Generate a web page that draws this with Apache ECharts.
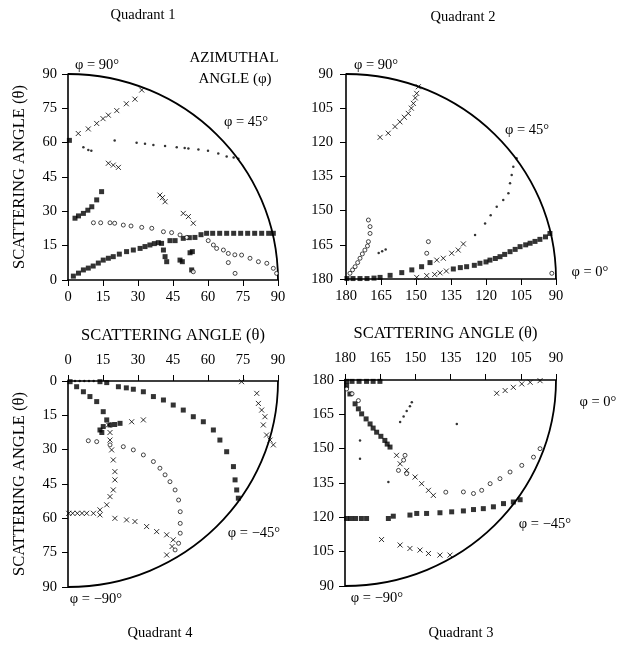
<!DOCTYPE html>
<html><head><meta charset="utf-8">
<script src="https://cdn.jsdelivr.net/npm/echarts@6/dist/echarts.min.js"></script>
<style>html,body{margin:0;padding:0;background:#fff}#c{width:622px;height:645px}</style>
</head><body><div id="c"></div>
<script>
// ---- data (theta, phi-plane coordinates) ----
const tickLow = [0, 15, 30, 45, 60, 75, 90];
const tickHigh = [90, 105, 120, 135, 150, 165, 180];
const axisTitle = 'SCATTERING ANGLE (θ)';
const quadrantNames = ['Quadrant 1', 'Quadrant 2', 'Quadrant 4', 'Quadrant 3'];

const q1Squares = [[2.3,1.7],[4.5,3],[6.6,4.4],[8.7,5.2],[10.8,6.1],[13,7.4],[15.1,8.7],[17.3,9.5],[19.4,10.2],[22,11.3],[25.1,12.4],[28,13.1],[30.9,13.8],[33,14.6],[35.1,15.3],[37,15.9],[38.7,16.3],[40.1,16],[40.9,13.1],[41.6,10.2],[42.3,8],[43.7,17.2],[45.9,17.2],[49.4,18.2],[52,18.5],[54.4,18.6],[57,19.8],[59.4,20.4],[62,20.4],[65,20.4],[68,20.4],[71,20.4],[74,20.4],[77,20.4],[80,20.4],[83,20.4],[86,20.4],[88,20.4],[3,27],[4.5,28],[6.6,29.1],[8.5,30.5],[10.2,32],[12.3,35],[14.4,38.6],[0.6,61],[48,8.7],[49,8],[52.3,11.9],[53.3,12.4],[53,4.4]];
const q1Crosses = [[4.4,64],[8.7,66],[12.3,68.4],[15,70.5],[17.3,72],[20.9,74],[25,77],[28.7,79],[31.6,83],[39.4,37.1],[40.5,36],[41.6,34.2],[49.4,29.1],[51.6,27.7],[53.7,24.8],[17.3,51],[19.4,50.2],[21.6,49.2]];
const q1Circles = [[10.9,25],[14,25],[18,25],[20,24.8],[23.7,24],[27,23.6],[31.6,23],[35.9,22.6],[40.9,21.1],[44.4,20.7],[48,19.7],[50.9,18.6],[60.1,17.2],[62.3,15.3],[63.7,13.8],[66.6,13.1],[68.7,11.6],[71.5,11],[74.4,10.9],[78,9.5],[81.6,8],[85.2,7.3],[88,5.1],[89.4,2.9],[68.7,7.6],[71.6,2.9],[53.7,3.6]];
const q1Dots = [[6.6,58],[8.7,56.8],[10,56.5],[20,61],[29.4,60],[33,59.5],[36.6,59],[41.6,58.5],[46.6,58],[50,57.7],[51.6,57.5],[55.9,57],[60,56.5],[64.4,55.3],[68,54],[71,53.5],[73,53]];

const q2Squares = [[179.6,179.8],[177,179.8],[174,179.8],[171,179.8],[168,179.6],[165.4,179.3],[161.1,178.4],[156.1,177.2],[151.8,176],[147.6,174.6],[144,172.8],[134,175.6],[131,175],[128.3,174.6],[125,174],[122.6,173.1],[120,172.5],[118.3,171.7],[116,171],[114,170.2],[112,169.2],[109.7,168],[107.5,167],[105.4,165.8],[103,165],[101.1,164.3],[99,163.5],[96.9,162.6],[94.5,161.5],[92.6,160]];
const q2Crosses = [[149.7,179.3],[145.4,178.5],[142,178],[139.7,177.3],[137,176.5],[165.4,117.8],[161.9,116],[159,113.1],[156.9,111],[155,109],[153.3,107.3],[152,105],[151.1,102.9],[150.3,100.5],[149.7,98.5],[149,95.6],[141.1,171.7],[138.3,170.9],[134.7,168.7],[131.9,167.3],[129.7,164.6]];
const q2Circles = [[178.3,177.5],[177.2,176],[176.1,174.6],[175,172.8],[174,170.9],[173,169],[171.9,167.3],[170.8,165.5],[170.4,163.6],[169.7,160],[169.7,157],[170.4,154.1],[91.8,177.5],[144.7,163.6],[145.4,168.7]];
const q2Dots = [[124.7,160.7],[120.4,155.6],[118,152],[115.4,148.3],[112.6,145.3],[110.4,142.4],[109.7,138],[109,134.3],[108.3,130.7],[106.9,127],[166,168.6],[164.5,167.8],[163,167]];

const q4Squares = [[13.7,0.3],[16.6,0.7],[21.6,2.5],[25,3],[28,3.6],[32.3,4.7],[36.6,6.8],[40.9,8.3],[45.1,10.5],[49.4,12.7],[53.7,15.6],[58,17.8],[62.3,21.4],[65.1,25.8],[68,30.9],[70.9,37.4],[71.6,43.2],[72.3,47.6],[73,51.2],[0.9,0.3],[3.7,2.5],[6.6,4.7],[9.4,6.8],[12.3,9],[15.1,13.4],[16.6,17],[15.1,19.9],[13.7,21.4],[14.5,22.5],[18,19.2],[20,19],[22.3,18.5]];
const q4Crosses = [[27.3,17.8],[32.3,17],[17.3,19.2],[18,22.5],[18,25.8],[18.7,30.1],[19.4,34.5],[20.1,39.6],[20.1,43.2],[19.4,47.6],[18,50.5],[16.6,54.1],[13.7,56.3],[10.9,57.8],[8,57.8],[6,57.8],[4,57.8],[2,57.8],[0.3,57.8],[13.7,58.5],[20.1,60],[25.1,60.7],[28.7,61.4],[33.7,63.6],[38,65.8],[42.3,67.2],[45.1,69.4],[44.6,72.3],[42.3,76],[74.4,0.3],[80.9,5.4],[81.6,9.8],[83,12.7],[84.4,15.6],[83.7,19.2],[85.1,23.6],[86.6,25.8],[88,27.9]];
const q4Circles = [[8.7,26.1],[12.3,26.5],[18,27.9],[23.7,28.7],[28,30.1],[32.3,32.3],[36.6,35.2],[39.4,38.1],[41.6,41],[43.7,44],[45.9,47.6],[47.4,52],[48.1,57.1],[48.1,62.2],[48.1,66.5],[47.4,70.9],[45.9,73.8]];
const q4Dots = [[3,0],[5,0],[7,0],[9,0],[11,0]];

const q3Squares = [[179.3,179.4],[177,179.4],[174,179.4],[170.8,179.4],[168,179.4],[165.1,179.4],[179.3,177.5],[177.9,173.9],[175.7,169.6],[174.3,167.4],[172.9,165.2],[171,163],[169.3,160.8],[168,159],[166.5,157.2],[164.7,155.4],[163,153.6],[162,152],[160.8,150.7],[179.3,119.5],[177.5,119.5],[175.5,119.5],[173,119.5],[170.8,119.5],[161.5,119.5],[159.4,120.5],[152.3,121],[149.4,121.7],[145.2,121.7],[139.5,122],[134.5,122.4],[129.5,122.8],[125.2,123.4],[121,123.8],[116.7,124.6],[112.4,126],[108.2,126.7],[105.3,127.7]];
const q3Crosses = [[158,147.1],[156.5,143.4],[153.7,140.5],[150.1,137.6],[147.3,134.7],[144.4,131.8],[142.3,129.6],[164.4,110.3],[156.5,107.9],[152.3,106.4],[148,105.7],[144.4,104.2],[139.5,103.5],[135.2,103.5],[115.3,174.2],[111.7,175.4],[108.2,176.8],[104.6,178.3],[101,179],[96.8,179.7]];
const q3Circles = [[179.3,176.1],[177,174],[174.3,171],[154.4,147.1],[155,145],[157.2,140.5],[153.7,139.1],[137,131],[129.5,131.1],[125.2,130.4],[121.7,131.8],[118.1,134.7],[113.9,136.9],[109.6,139.8],[104.6,142.7],[99.6,146.3],[96.8,150]];
const q3Dots = [[156.5,161.6],[155,164],[153.7,166.5],[152.3,168.5],[151.5,170.3],[173.6,153.6],[173.6,145.6],[161.5,135.4],[132.3,160.8]];

// arc centres (data coords) and direction signs per quadrant
const arcCentres = [[0,0],[180,180],[0,0],[180,180]];
const arcSigns = [1,-1,1,-1];

// ---- chart ----
const FONT = 'Liberation Serif';
const chart = echarts.init(document.getElementById('c'), null, {renderer:'canvas'});
const CROSS = 'path://M0,0L10,10M0,10L10,0';

function axisBase(min, max, opts, labelMargin){
  return Object.assign({
    type:'value', min:min, max:max, interval:15,
    axisLine:{show:true, onZero:false, lineStyle:{color:'#000', width:1.6}},
    axisTick:{show:true, inside:false, length:6, lineStyle:{color:'#000', width:1}},
    axisLabel:{color:'#000', fontFamily:FONT, fontSize:14.5, margin:labelMargin},
    splitLine:{show:false},
    nameTextStyle:{color:'#000', fontFamily:FONT, fontSize:16.5}
  }, opts);
}

const grids = [
  {left:68, top:74, width:210, height:206},
  {left:346, top:74, width:210, height:205},
  {left:68, top:381, width:210, height:206},
  {left:345, top:380, width:211, height:206}
];

const xAxes = [
  axisBase(0,90,{gridIndex:0, position:'bottom'},10),
  axisBase(90,180,{gridIndex:1, position:'bottom', inverse:true},10),
  axisBase(0,90,{gridIndex:2, position:'top', name:axisTitle, nameLocation:'middle', nameGap:37},13),
  axisBase(90,180,{gridIndex:3, position:'top', inverse:true, name:axisTitle, nameLocation:'middle', nameGap:38,
    nameTextStyle:{color:'#000', fontFamily:FONT, fontSize:16.5, padding:[0,10,0,0]}},14)
];
const yAxes = [
  axisBase(0,90,{gridIndex:0, position:'left', name:axisTitle, nameLocation:'middle', nameGap:40, nameRotate:90},11),
  axisBase(90,180,{gridIndex:1, position:'left', inverse:true},13),
  axisBase(0,90,{gridIndex:2, position:'left', inverse:true, name:axisTitle, nameLocation:'middle', nameGap:40, nameRotate:90},11),
  axisBase(90,180,{gridIndex:3, position:'left'},11)
];

function scatter(idx, data, kind){
  const s = {type:'scatter', xAxisIndex:idx, yAxisIndex:idx, data:data, silent:true, z:3};
  if(kind==='square'){ s.symbol='rect'; s.symbolSize=5; s.itemStyle={color:'#000'}; }
  else if(kind==='cross'){ s.symbol=CROSS; s.symbolSize=5; s.itemStyle={color:'rgba(0,0,0,0)', borderColor:'#000', borderWidth:1}; }
  else if(kind==='circle'){ s.symbol='circle'; s.symbolSize=4; s.itemStyle={color:'#fff', borderColor:'#000', borderWidth:0.9}; }
  else { s.symbol='circle'; s.symbolSize=2.5; s.itemStyle={color:'#000'}; }
  return s;
}

const K = 0.5523;
function arcSeries(idx){
  return {
    type:'custom', xAxisIndex:idx, yAxisIndex:idx, silent:true, clip:false, z:2,
    data:[arcCentres[idx]],
    renderItem:function(params, api){
      const cx = api.value(0), cy = api.value(1), s = arcSigns[idx], r = 90;
      const a = api.coord([cx, cy + s*r]);
      const b = api.coord([cx + s*r, cy]);
      const c1 = api.coord([cx + s*K*r, cy + s*r]);
      const c2 = api.coord([cx + s*r, cy + s*K*r]);
      return {type:'bezierCurve', shape:{x1:a[0], y1:a[1], x2:b[0], y2:b[1], cpx1:c1[0], cpy1:c1[1], cpx2:c2[0], cpy2:c2[1]},
        style:{stroke:'#000', lineWidth:1.8, fill:null}};
    }
  };
}

const series = [
  arcSeries(0), arcSeries(1), arcSeries(2), arcSeries(3),
  scatter(0,q1Squares,'square'), scatter(0,q1Crosses,'cross'), scatter(0,q1Circles,'circle'), scatter(0,q1Dots,'dot'),
  scatter(1,q2Squares,'square'), scatter(1,q2Crosses,'cross'), scatter(1,q2Circles,'circle'), scatter(1,q2Dots,'dot'),
  scatter(2,q4Squares,'square'), scatter(2,q4Crosses,'cross'), scatter(2,q4Circles,'circle'), scatter(2,q4Dots,'dot'),
  scatter(3,q3Squares,'square'), scatter(3,q3Crosses,'cross'), scatter(3,q3Circles,'circle'), scatter(3,q3Dots,'dot')
];

function txt(x, y, t, size){
  return {type:'text', x:x, y:y, style:{text:t, fill:'#000', font:(size||14.5)+'px "'+FONT+'"', textAlign:'center', textVerticalAlign:'middle'}};
}

chart.setOption({
  animation:false,
  backgroundColor:'#fff',
  textStyle:{fontFamily:FONT},
  grid:grids, xAxis:xAxes, yAxis:yAxes, series:series,
  graphic:[
    txt(143,15,quadrantNames[0]), txt(463,17,quadrantNames[1]),
    txt(160,633,quadrantNames[2]), txt(461,633,quadrantNames[3]),
    txt(234,58,'AZIMUTHAL',15), txt(235,79,'ANGLE (φ)',15),
    txt(97,65,'φ = 90°'), txt(246,122,'φ = 45°'),
    txt(376,65,'φ = 90°'), txt(527,130,'φ = 45°'), txt(590,272,'φ = 0°'),
    txt(254,533,'φ = −45°'), txt(96,599,'φ = −90°'),
    txt(598,402,'φ = 0°'), txt(545,524,'φ = −45°'), txt(377,598,'φ = −90°')
  ]
});
</script></body></html>
